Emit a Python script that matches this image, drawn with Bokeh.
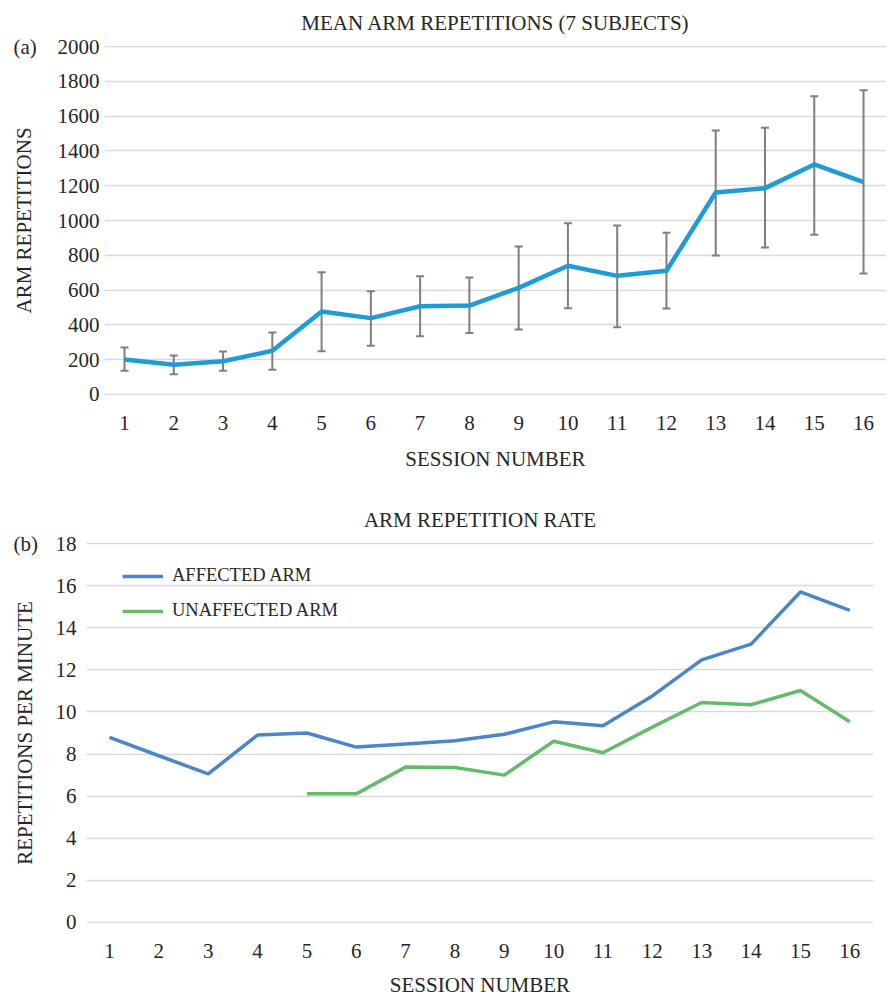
from bokeh.plotting import figure
from bokeh.models import (Range1d, FixedTicker, Whisker, ColumnDataSource,
                          Legend, LegendItem, TeeHead, Title)
from bokeh.embed import file_html
from bokeh.resources import INLINE

# ---------------- data ----------------
sessions = list(range(1, 17))
session_labels = [str(s) for s in sessions]

mean_reps = [201, 171, 191, 251, 477, 439, 507, 511, 613, 740, 682, 711, 1161, 1186, 1322, 1220]
reps_upper = [270, 224, 247, 356, 703, 594, 680, 672, 850, 984, 971, 929, 1517, 1533, 1714, 1749]
reps_lower = [136, 117, 136, 142, 249, 280, 335, 354, 373, 496, 387, 494, 799, 845, 918, 695]

nan = float("nan")
affected_rate = [8.79, 7.92, 7.06, 8.90, 9.00, 8.33, 8.48, 8.63, 8.94, 9.53, 9.34, 10.76, 12.47, 13.22, 15.70, 14.82]
unaffected_rate = [nan, nan, nan, nan, 6.11, 6.11, 7.38, 7.36, 7.00, 8.61, 8.06, 9.28, 10.45, 10.34, 11.02, 9.53]

reps_ticks = [0, 200, 400, 600, 800, 1000, 1200, 1400, 1600, 1800, 2000]
rate_ticks = [0, 2, 4, 6, 8, 10, 12, 14, 16, 18]

FONT = "Liberation Serif"
TXT = "#262626"
GRID = "#d9d9d9"


def style(p, yticks):
    p.outline_line_color = None
    p.xgrid.grid_line_color = None
    p.ygrid.grid_line_color = GRID
    p.ygrid.grid_line_width = 1.5
    p.xaxis.ticker = FixedTicker(ticks=sessions)
    p.xaxis.major_label_overrides = {s: l for s, l in zip(sessions, session_labels)}
    p.yaxis.ticker = FixedTicker(ticks=yticks)
    for ax in (p.xaxis[0], p.yaxis[0]):
        ax.axis_line_color = None
        ax.major_tick_line_color = None
        ax.minor_tick_line_color = None
        ax.major_tick_out = 0
        ax.major_tick_in = 0
        ax.major_label_text_font = FONT
        ax.major_label_text_font_size = "21px"
        ax.major_label_text_color = TXT
        ax.axis_label_text_font = FONT
        ax.axis_label_text_font_size = "21px"
        ax.axis_label_text_font_style = "normal"
        ax.axis_label_text_color = TXT


def titles(p, main, tag, tag_offset):
    # panel tag "(a)"/"(b)" sits just above the frame, to the left of it
    p.add_layout(Title(text=tag, align="left", offset=tag_offset, vertical_align="bottom",
                       text_font=FONT, text_font_size="21px", text_font_style="normal",
                       text_color=TXT, standoff=-26), "above")
    p.title = Title(text=main, align="center", vertical_align="top", text_font=FONT,
                    text_font_size="21px", text_font_style="normal", text_color=TXT, standoff=18)


# ---------------- top chart ----------------
p1 = figure(frame_width=782, frame_height=350, output_backend="svg", toolbar_location=None,
            min_border_left=104, min_border_right=0, min_border_top=45, min_border_bottom=101,
            x_range=Range1d(0.594, 16.466), y_range=Range1d(-5.75, 2005.75))
titles(p1, "MEAN ARM REPETITIONS (7 SUBJECTS)", "(a)", -91)
style(p1, reps_ticks)
p1.xaxis.axis_label = "SESSION NUMBER"
p1.yaxis.axis_label = "ARM REPETITIONS"
p1.xaxis[0].major_label_standoff = 20
p1.xaxis[0].axis_label_standoff = 14
p1.yaxis[0].major_label_standoff = 5
p1.yaxis[0].axis_label_standoff = 19

src1 = ColumnDataSource(dict(x=sessions, y=mean_reps, up=reps_upper, lo=reps_lower))
wh = Whisker(base="x", upper="up", lower="lo", source=src1, line_color="#7f7f7f", line_width=2,
             upper_head=TeeHead(size=8, line_color="#7f7f7f", line_width=2),
             lower_head=TeeHead(size=8, line_color="#7f7f7f", line_width=2))
p1.add_layout(wh)
p1.line("x", "y", source=src1, line_color="#1f9bd7", line_width=4.5, line_join="round")

# ---------------- bottom chart ----------------
p2 = figure(frame_width=787, frame_height=381, output_backend="svg", toolbar_location=None,
            min_border_left=86, min_border_right=13, min_border_top=46, min_border_bottom=74,
            x_range=Range1d(0.534, 16.481), y_range=Range1d(-0.0475, 18.0475))
titles(p2, "ARM REPETITION RATE", "(b)", -73)
style(p2, rate_ticks)
p2.xaxis.axis_label = "SESSION NUMBER"
p2.yaxis.axis_label = "REPETITIONS PER MINUTE"
p2.xaxis[0].major_label_standoff = 20
p2.xaxis[0].axis_label_standoff = 12
p2.yaxis[0].major_label_standoff = 10
p2.yaxis[0].axis_label_standoff = 16

src2 = ColumnDataSource(dict(x=sessions, a=affected_rate, u=unaffected_rate))
r_a = p2.line("x", "a", source=src2, line_color="#4a86c8", line_width=3.5, line_join="round")
r_u = p2.line("x", "u", source=src2, line_color="#66bb6a", line_width=3.5, line_join="round")
legend = Legend(items=[LegendItem(label="AFFECTED ARM", renderers=[r_a]),
                       LegendItem(label="UNAFFECTED ARM", renderers=[r_u])],
                location=(36, 302), padding=0, spacing=14, glyph_width=41, glyph_height=20,
                label_height=20, label_standoff=9, border_line_color=None,
                background_fill_alpha=0, label_text_font=FONT, label_text_font_size="18.5px",
                label_text_color=TXT)
p2.add_layout(legend)

open("out.html", "w").write(file_html([p1, p2], INLINE))
